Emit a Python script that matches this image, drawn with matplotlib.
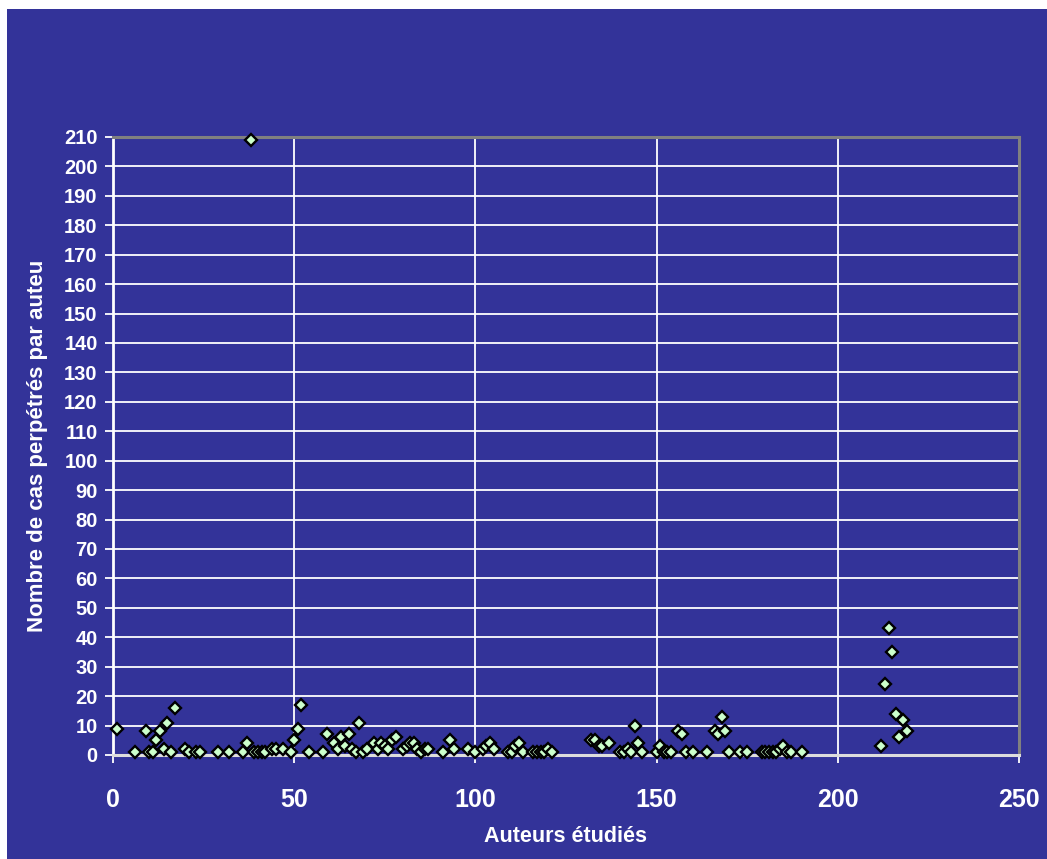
import matplotlib
matplotlib.use("Agg")
import matplotlib.pyplot as plt
from matplotlib.patches import Rectangle

# Data
authors = [1, 6, 9, 10, 11, 12, 13, 14, 15, 16, 17, 20, 21, 23, 24, 29, 32, 36, 37, 38,
           39, 40, 41, 42, 44, 45, 47, 49, 50, 51, 52, 54, 58, 59, 61, 62, 63, 64, 65, 66,
           67, 68, 69, 70, 72, 73, 74, 75, 76, 77, 78, 80, 81, 82, 83, 84, 85, 86, 87, 91,
           93, 94, 98, 100, 102, 103, 104, 105, 109, 110, 111, 112, 113, 116, 117, 118, 119, 120, 121,
           132, 133, 134, 135, 137, 140, 141, 142, 143, 144, 145, 146, 150, 151, 152, 153, 154,
           156, 157, 158, 160, 164, 166, 167, 168, 169, 170, 173, 175, 179, 180, 181, 182, 183,
           184, 185, 186, 187, 190, 212, 213, 214, 215, 216, 217, 218, 219]
cases = [9, 1, 8, 1, 1, 5, 8, 2, 11, 1, 16, 2, 1, 1, 1, 1, 1, 1, 4, 209,
         1, 1, 1, 1, 2, 2, 2, 1, 5, 9, 17, 1, 1, 7, 4, 2, 6, 3, 7, 2,
         1, 11, 1, 2, 4, 2, 4, 3, 2, 5, 6, 2, 3, 4, 4, 2, 1, 2, 2, 1,
         5, 2, 2, 1, 2, 3, 4, 2, 1, 1, 3, 4, 1, 1, 1, 1, 1, 2, 1,
         5, 5, 3, 3, 4, 1, 1, 2, 1, 10, 4, 1, 1, 3, 1, 1, 1,
         8, 7, 1, 1, 1, 8, 7, 13, 8, 1, 1, 1, 1, 1, 1, 1, 1,
         2, 3, 1, 1, 1, 3, 24, 43, 35, 14, 6, 12, 8]
x_ticks = [0, 50, 100, 150, 200, 250]
y_ticks = list(range(0, 211, 10))

BLUE = "#333399"
W, H = 1047, 859
fig = plt.figure(figsize=(W / 100, H / 100), dpi=100, facecolor="white")
fig.patches.append(Rectangle((7 / W, 0), 1 - 7 / W, 1 - 9 / H, transform=fig.transFigure,
                             facecolor=BLUE, edgecolor="none", zorder=-10))

ax = fig.add_axes([113 / W, (H - 755) / H, (1019 - 113) / W, (755 - 137) / H])
ax.set_zorder(5)
ax.set_facecolor(BLUE)
ax.set_xlim(0, 250)
ax.set_ylim(0, 210)
ax.set_xticks(x_ticks)
ax.set_yticks(y_ticks)
ax.grid(True, color="white", linewidth=1.3)
ax.set_axisbelow(True)

ax.plot(authors, cases, linestyle="none", marker="D", markersize=6.0,
        markerfacecolor="#CCFFCC", markeredgecolor="black", markeredgewidth=1.7,
        clip_on=False, zorder=5)

font = "Liberation Sans"
ax.tick_params(axis="both", colors="white", length=6, width=1.3, direction="out")
ax.tick_params(axis="y", pad=5)
ax.tick_params(axis="x", pad=18)
for lab in ax.get_yticklabels():
    lab.set_fontfamily(font); lab.set_fontweight("bold"); lab.set_fontsize(14.5); lab.set_color("white")
for lab in ax.get_xticklabels():
    lab.set_fontfamily(font); lab.set_fontweight("bold"); lab.set_fontsize(18); lab.set_color("white")

for side in ("top", "right"):
    ax.spines[side].set_color("#808080")
    ax.spines[side].set_linewidth(2.2)
ax.spines["left"].set_color("white")
ax.spines["left"].set_linewidth(2)
ax.spines["bottom"].set_color("#DDDDDD")
ax.spines["bottom"].set_linewidth(2.2)

ax.set_xlabel("Auteurs étudiés", fontfamily=font, fontweight="bold", fontsize=15.5,
              color="white", va="center")
ax.xaxis.set_label_coords(0.5, -(836 - 755) / (755 - 137))
ax.set_ylabel("Nombre de cas perpétrés par auteu", fontfamily=font, fontweight="bold",
              fontsize=16, color="white", va="center")
ax.yaxis.set_label_coords((38 - 113) / (1019 - 113), 0.5)

fig.savefig("out.png", dpi=100, facecolor="white")
